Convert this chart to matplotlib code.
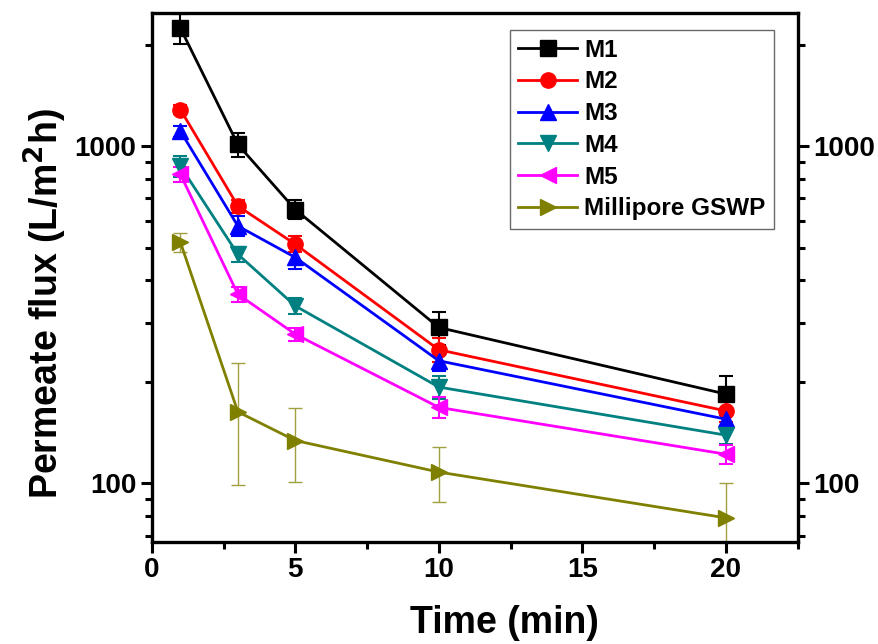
import numpy as np
import matplotlib
matplotlib.use("Agg")
import matplotlib.pyplot as plt
from matplotlib.ticker import LogLocator, NullFormatter, FixedLocator, FixedFormatter

plt.rcParams["font.family"] = ["Liberation Sans", "DejaVu Sans"]
plt.rcParams["font.weight"] = "bold"
plt.rcParams["mathtext.default"] = "bf"

# ------------------------------------------------------------
# Data: permeate flux (L/m2h) vs filtration time
# ------------------------------------------------------------

time_min = [1, 3, 5, 10, 20]

labels = ["M1", "M2", "M3", "M4", "M5", "Millipore GSWP"]

flux_m1 = [2240, 1012, 649, 290, 184]
flux_m2 = [1284, 665, 512, 249, 164]
flux_m3 = [1108, 580, 468, 231, 155]
flux_m4 = [873, 478, 336, 193, 139]
flux_m5 = [825, 364, 277, 168, 122]
flux_gswp = [519, 163, 134, 108, 79]

err_m1 = [230, 85, 42, 32, 24]
err_m2 = [40, 30, 28, 20, 12]
err_m3 = [40, 40, 35, 15, 8]
err_m4 = [60, 25, 18, 15, 8]
err_m5 = [40, 18, 12, 12, 8]
err_gswp = [35, 64, 33, 20, 21]

colors = ["black", "red", "blue", "#008080", "magenta", "#808000"]
markers = ["s", "o", "^", "v", "<", ">"]

series = [flux_m1, flux_m2, flux_m3, flux_m4, flux_m5, flux_gswp]
errors = [err_m1, err_m2, err_m3, err_m4, err_m5, err_gswp]

# ------------------------------------------------------------
# Plot
# ------------------------------------------------------------

fig = plt.figure(figsize=(8.79, 6.44), dpi=100)
ax = fig.add_axes([0.1726, 0.1584, 0.7350, 0.8210])

handles = []
for i, (y, e) in enumerate(zip(series, errors)):
    is_gswp = labels[i] == "Millipore GSWP"
    cont = ax.errorbar(
        time_min, y, yerr=e,
        color=colors[i], marker=markers[i], markersize=11,
        linewidth=2, elinewidth=1.0 if is_gswp else 1.5,
        ecolor="#a0a040" if is_gswp else colors[i],
        capsize=5, capthick=1.0 if is_gswp else 1.5,
        label=labels[i],
    )
    handles.append(cont[0])

ax.set_yscale("log")
ax.set_xlim(0, 22.5)
ax.set_ylim(67, 2480)

ax.xaxis.set_major_locator(FixedLocator([0, 5, 10, 15, 20]))
ax.xaxis.set_minor_locator(FixedLocator([2.5, 7.5, 12.5, 17.5, 22.5]))

ax.yaxis.set_major_locator(FixedLocator([100, 1000]))
ax.yaxis.set_major_formatter(FixedFormatter(["100", "1000"]))
ax.yaxis.set_minor_locator(LogLocator(base=10, subs=np.arange(2, 10)))
ax.yaxis.set_minor_formatter(NullFormatter())

ax.tick_params(which="both", direction="out", width=2.2, labelsize=20,
               left=True, right=True, labelright=True, top=False)
ax.tick_params(which="major", length=8, pad=3)
ax.tick_params(which="minor", length=5)

for spine in ax.spines.values():
    spine.set_linewidth(2.4)

ax.set_xlabel("Time (min)", fontsize=27, fontweight="bold", labelpad=16)
ax.set_ylabel("Permeate flux (L/m$^2$h)", fontsize=27, fontweight="bold", labelpad=4)
ax.xaxis.label.set_x(0.546)
ax.yaxis.label.set_y(0.45)

leg = ax.legend(handles, labels, loc="upper right", bbox_to_anchor=(0.963, 0.968),
                borderaxespad=0, frameon=True, fancybox=False, handlelength=2.4,
                labelspacing=0.36, handletextpad=0.3, borderpad=0.35,
                markerscale=1.0, prop={"weight": "bold", "size": 17.5})
leg.get_frame().set_edgecolor("#444444")
leg.get_frame().set_linewidth(1.0)

fig.savefig("out.png", dpi=100)
